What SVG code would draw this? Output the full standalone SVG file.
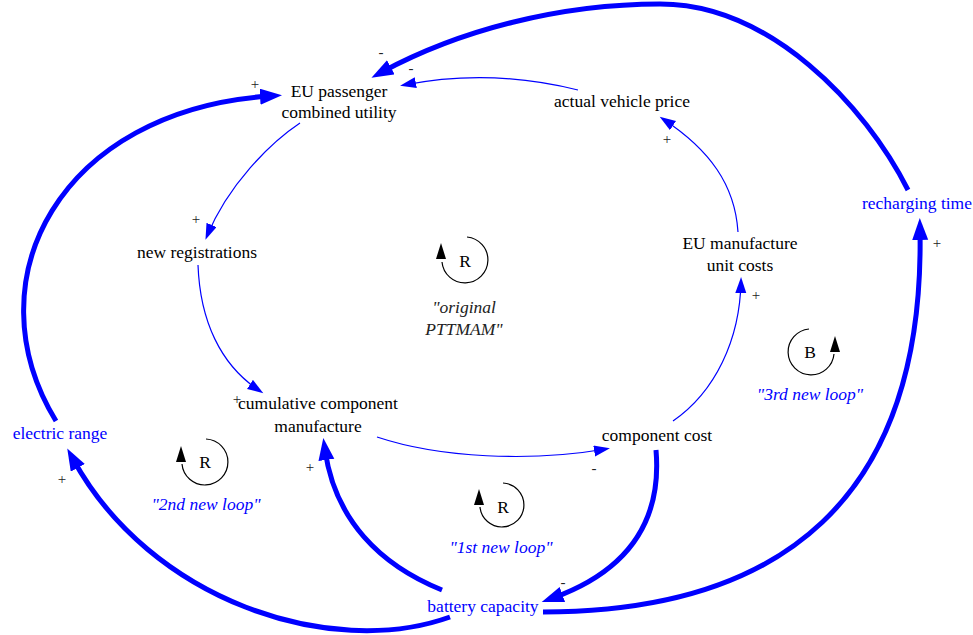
<svg xmlns="http://www.w3.org/2000/svg" width="973" height="635" viewBox="0 0 973 635">
<style>
.n{font-family:"Liberation Serif","Times New Roman",serif;font-size:17.5px;fill:#000;text-anchor:middle}
.b{fill:#0000FF}
.s{font-family:"Liberation Serif","Times New Roman",serif;font-size:15px;fill:#222;text-anchor:middle}
.lb{font-family:"Liberation Serif","Times New Roman",serif;font-size:17.5px;font-style:italic;text-anchor:middle}
.thin{fill:none;stroke:#0000FF;stroke-width:1.2;marker-end:url(#ah)}
.thick{fill:none;stroke:#0000FF;stroke-width:5;marker-end:url(#AH)}
.loop{fill:none;stroke:#000;stroke-width:1.2}
</style>
<defs>
<marker id="ah" markerUnits="userSpaceOnUse" markerWidth="17" markerHeight="12" refX="12" refY="5.5" orient="auto"><path d="M0,0 L16,5.5 L0,11 z" fill="#0000FF"/></marker>
<marker id="AH" markerUnits="userSpaceOnUse" markerWidth="24" markerHeight="18" refX="10" refY="8" orient="auto"><path d="M0,0 L22,8 L0,16 z" fill="#0000FF"/></marker>
</defs>
<rect width="973" height="635" fill="#fff"/>
<g id="connectors">
<path class="thick" d="M908,190 C 865,105 770,4 660,4 C 560,4 460,30 382,72"/>
<path class="thin" d="M578,90 Q 490,68 404,85"/>
<path class="thin" d="M738,232 C 735,185 710,150 663,119"/>
<path class="thin" d="M300,123 C 270,143 228,185 207,236"/>
<path class="thin" d="M198,265 C 200,320 220,365 260,391"/>
<path class="thin" d="M377,437 C 440,458 530,462 606,449"/>
<path class="thin" d="M673,421 C 715,392 740,340 741,281"/>
<path class="thick" d="M656,450 C 662,520 630,570 553,598"/>
<path class="thick" d="M442,590 C 380,565 335,520 325,450"/>
<path class="thick" d="M450,617 C 330,660 150,600 73,459"/>
<path class="thick" d="M56,421 C -30,280 60,110 270,96"/>
<path class="thick" d="M543,612 C 780,612 925,500 920,230"/>
</g>
<g id="signs">
<text class="s" x="381" y="57">-</text>
<text class="s" x="411" y="73">-</text>
<text class="s" x="255" y="89">+</text>
<text class="s" x="667" y="144">+</text>
<text class="s" x="196" y="224">+</text>
<text class="s" x="237" y="404">+</text>
<text class="s" x="594" y="473">-</text>
<text class="s" x="756" y="300">+</text>
<text class="s" x="310" y="472">+</text>
<text class="s" x="563" y="587">-</text>
<text class="s" x="62" y="484">+</text>
<text class="s" x="937" y="248">+</text>
</g>
<g id="eu_passenger_combined_utility"><text class="n" x="339" y="97">EU passenger</text><text class="n" x="339" y="118">combined utility</text></g>
<g id="actual_vehicle_price"><text class="n" x="622" y="107">actual vehicle price</text></g>
<g id="new_registrations"><text class="n" x="197" y="258">new registrations</text></g>
<g id="cumulative_component_manufacture"><text class="n" x="318" y="409">cumulative component</text><text class="n" x="318" y="432">manufacture</text></g>
<g id="component_cost"><text class="n" x="657" y="441">component cost</text></g>
<g id="eu_manufacture_unit_costs"><text class="n" x="740" y="249">EU manufacture</text><text class="n" x="740" y="271">unit costs</text></g>
<g id="recharging_time"><text class="n b" x="917" y="209">recharging time</text></g>
<g id="electric_range"><text class="n b" x="60" y="439">electric range</text></g>
<g id="battery_capacity"><text class="n b" x="483" y="612">battery capacity</text></g>
<g id="loop_original">
<path class="loop" d="M467,237 A23,23 0 1 1 442,262"/>
<polygon points="441,243 436,259 446,259" fill="#000"/>
<text class="n" x="465" y="267">R</text>
<text class="lb" x="464" y="313" fill="#222">"original</text>
<text class="lb" x="464" y="335" fill="#222">PTTMAM"</text>
</g>
<g id="loop_2nd">
<path class="loop" d="M206,439 A23,23 0 1 1 182,464"/>
<polygon points="181,446 176,462 186,462" fill="#000"/>
<text class="n" x="205" y="468">R</text>
<text class="lb b" x="206" y="510">"2nd new loop"</text>
</g>
<g id="loop_1st">
<path class="loop" d="M503,483 A22,22 0 1 1 480,507"/>
<polygon points="479,489 474,505 484,505" fill="#000"/>
<text class="n" x="503" y="513">R</text>
<text class="lb b" x="501" y="553">"1st new loop"</text>
</g>
<g id="loop_3rd">
<path class="loop" d="M809,329 A23,23 0 1 0 834,354"/>
<polygon points="835,336 830,352 840,352" fill="#000"/>
<text class="n" x="810" y="358">B</text>
<text class="lb b" x="810" y="400">"3rd new loop"</text>
</g>
</svg>
